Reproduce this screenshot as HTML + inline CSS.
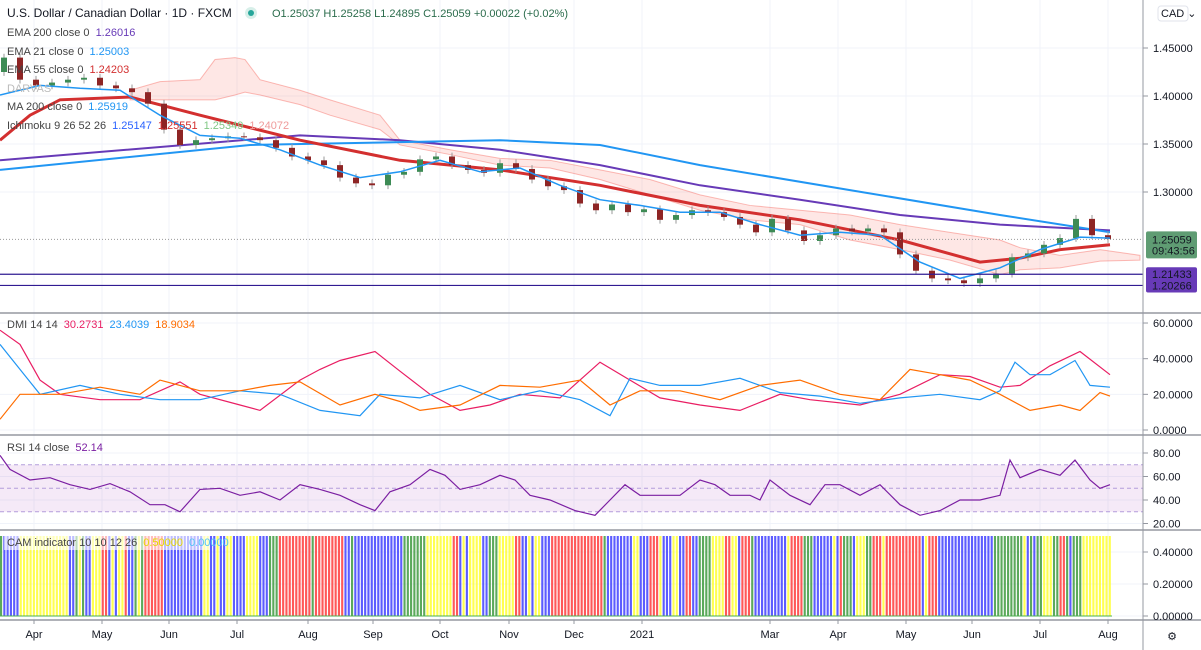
<!DOCTYPE html>
<html><head><meta charset="utf-8">
<style>
html,body{margin:0;padding:0;background:#fff;}
svg{display:block;font-family:"Liberation Sans",sans-serif;}
.ax{font-size:11px;fill:#131722;}
.lg{font-size:11px;}
</style></head>
<body>
<svg id="c" width="1201" height="650" viewBox="0 0 1201 650"></svg>
<script>
// ---------- data ----------
const monthLabels = ["Apr","May","Jun","Jul","Aug","Sep","Oct","Nov","Dec","2021","Mar","Apr","May","Jun","Jul","Aug"];
const monthT = [3.4,10.2,16.9,23.7,30.8,37.3,44.0,50.9,57.4,64.2,77.0,83.8,90.6,97.2,104.0,110.8];
const priceTicks = [1.45,1.40,1.35,1.30];
const dmiTicks = [60,40,20,0];
const rsiTicks = [80,60,40,20];
const camTicks = [0.4,0.2,0];
const closes = [1.440,1.417,1.411,1.414,1.417,1.419,1.411,1.408,1.404,1.392,1.365,1.349,1.354,1.356,1.358,1.357,1.354,1.346,1.337,1.333,1.328,1.315,1.309,1.307,1.318,1.321,1.334,1.337,1.328,1.323,1.320,1.330,1.324,1.313,1.306,1.302,1.288,1.281,1.287,1.279,1.282,1.271,1.276,1.281,1.279,1.274,1.266,1.258,1.272,1.260,1.249,1.255,1.262,1.259,1.262,1.258,1.235,1.218,1.210,1.208,1.205,1.210,1.215,1.232,1.236,1.245,1.252,1.272,1.255,1.251];
const openFirst = 1.425;
const ema21T = [0,4,8,12,16,20,24,28,32,36,40,44,48,52,56,60,64,68,72,76,80,84,88,92,96,100,104,108,111];
const ema21 = [1.401,1.411,1.408,1.406,1.380,1.359,1.356,1.344,1.328,1.315,1.321,1.333,1.321,1.325,1.307,1.292,1.286,1.279,1.279,1.266,1.255,1.258,1.255,1.227,1.210,1.221,1.240,1.253,1.252];
const ema55T = [0,3,6,13,20,30,40,50,60,70,80,90,98,102,106,111];
const ema55 = [1.354,1.380,1.396,1.399,1.380,1.354,1.333,1.323,1.307,1.286,1.271,1.250,1.227,1.231,1.240,1.245];
const ema200T = [0,30,40,50,60,70,80,90,100,111];
const ema200 = [1.333,1.359,1.354,1.344,1.328,1.307,1.292,1.276,1.266,1.260];
const ma200T = [0,25,40,50,60,70,85,100,111];
const ma200 = [1.323,1.349,1.352,1.354,1.349,1.328,1.302,1.276,1.258];
const cloudT = [13,16,20,21.5,23.5,24.5,26,30,33,38,40,45,50,55,60,65,70,75,80,85,90,95,100,102,106,110,114];
const spanTop = [1.406,1.415,1.417,1.438,1.440,1.438,1.417,1.406,1.396,1.380,1.354,1.344,1.335,1.333,1.323,1.313,1.297,1.286,1.281,1.276,1.266,1.258,1.250,1.242,1.234,1.240,1.234];
const spanBot = [1.396,1.396,1.396,1.396,1.401,1.404,1.401,1.391,1.380,1.365,1.349,1.339,1.328,1.325,1.313,1.297,1.281,1.271,1.266,1.250,1.240,1.229,1.214,1.219,1.221,1.228,1.229];
const levels = [1.21433,1.20266];
const lastPrice = 1.25059;
const dmiT = [0,2,4,6,10,14,18,20,24,26,30,32,34,37.5,40,43,46,49,52,56,60,63,66,70,74,78,81,86,90,94,97,100,102,105,108,111];
const diRed = [56,48,28,20,17,17,27,20,14,11,28,34,39,44,33,20,11,14,20,18,38,28,18,14,11,20,17,14,20,31,30,24,25,36,44,31];
const dmiT2 = [0,2,4,8,12,16,20,24,28,32,36,38,42,46,50,54,58,61,63,66,70,74,78,82,86,90,94,98,100,101.5,103,105,107.5,109,111];
const diBlue = [48,34,20,25,20,17,17,22,20,11,8,20,18,25,17,22,17,8,29,25,25,29,21,19,15,18,20,17,22,38,31,31,39,25,24];
const dmiT3 = [0,2,6,10,14,16,20,24,27,30,34,37.5,40,42,46,50,54,58,61,64,68,72,76,80,84,88,91,94,97,100,103,106,108,110,111];
const diOrange = [6,20,20,24,20,28,22,22,25,27,14,20,16,11,14,25,24,28,14,22,22,17,25,28,20,17,34,31,28,20,11,14,11,21,19];
const rsiT = [0,1,3,5,7,9,11,13,15,16.5,18,20,22,24,26,28,30,32,34,36,37.5,39,41,43,44.5,46,48,50,51.5,53,55,57.5,59.5,61,62.5,64,66,68,70,71.5,73,75,76,77,79,81,82.5,84,86,88,90,92,94,96,98,100,101,102,104,106,107.5,109,110,111];
const rsi = [78,66,57,59,53,49,54,47,36,36,30,49,50,44,47,40,53,49,44,36,31,47,53,66,61,49,53,61,57,44,40,31,27,40,53,44,44,44,57,53,44,44,40,57,44,36,53,53,44,53,36,27,31,40,40,44,74,59,66,61,74,57,50,53];
const camRuns = [["G",1],["B",5],["Y",15],["B",2],["G",1],["Y",1],["G",1],["B",2],["Y",3],["R",2],["B",1],["Y",1],["B",1],["Y",2],["R",1],["B",2],["G",1],["Y",1],["G",1],["R",6],["B",12],["Y",2],["B",2],["Y",1],["B",2],["Y",2],["B",4],["Y",4],["B",3],["G",3],["R",10],["G",1],["R",9],["B",2],["G",1],["B",15],["G",7],["Y",8],["R",2],["B",1],["Y",1],["B",1],["Y",4],["B",2],["G",3],["Y",5],["R",2],["B",2],["Y",1],["B",1],["Y",2],["B",3],["R",16],["G",1],["B",8],["Y",2],["B",3],["R",3],["Y",1],["B",3],["Y",2],["B",2],["R",2],["B",2],["G",4],["Y",4],["R",2],["Y",2],["B",1],["R",3],["G",1],["B",10],["Y",1],["R",4],["G",3],["B",6],["Y",1],["B",1],["R",1],["G",3],["B",1],["Y",3],["G",1],["G",1],["R",3],["Y",1],["R",11],["B",1],["Y",1],["R",3],["B",17],["G",9],["Y",1],["B",1],["G",1],["B",1],["G",2],["Y",3],["G",2],["R",2],["G",1],["B",1],["G",3],["Y",9]];
const camValue = 0.5;

// ---------- scales ----------
const NS="http://www.w3.org/2000/svg";
const svg=document.getElementById('c');
const PW=1143;
const xT=t=>t*10;
const yP=p=>48+(1.45-p)*960;
const yD=v=>430-v*1.783;
const yR=v=>500-(v-40)*1.175;
const yC=v=>616-v*160;
function mk(tag,attrs,parent){const e=document.createElementNS(NS,tag);for(const k in attrs)e.setAttribute(k,attrs[k]);(parent||svg).appendChild(e);return e;}
function txt(x,y,s,cls,fill,anchor){const e=mk('text',{x:x,y:y,class:cls||'ax'});if(fill)e.setAttribute('fill',fill);if(anchor)e.setAttribute('text-anchor',anchor);e.textContent=s;return e;}
function pathFrom(ts,vs,ys){return ts.map((t,i)=>(i?'L':'M')+xT(t).toFixed(1)+','+ys(vs[i]).toFixed(1)).join('');}

// grid
const grid=mk('g',{});


monthT.forEach(t=>mk('line',{x1:xT(t),x2:xT(t),y1:0,y2:620,stroke:'#f0f3fa','stroke-width':1},grid));
priceTicks.forEach(p=>mk('line',{x1:0,x2:PW,y1:yP(p),y2:yP(p),stroke:'#f0f3fa'},grid));
dmiTicks.forEach(v=>mk('line',{x1:0,x2:PW,y1:yD(v),y2:yD(v),stroke:'#f0f3fa'},grid));
rsiTicks.forEach(v=>mk('line',{x1:0,x2:PW,y1:yR(v),y2:yR(v),stroke:'#f0f3fa'},grid));
camTicks.forEach(v=>mk('line',{x1:0,x2:PW,y1:yC(v),y2:yC(v),stroke:'#f0f3fa'},grid));

// cloud
const cp=cloudT.map((t,i)=>xT(t)+','+yP(spanTop[i])).concat(cloudT.slice().reverse().map((t,j)=>{const i=cloudT.length-1-j;return xT(t)+','+yP(spanBot[i]);})).join(' ');
const cloud=mk('polygon',{points:cp,fill:'rgba(244,67,54,0.13)',stroke:'rgba(244,67,54,0.35)','stroke-width':1});



// MAs
const l200=mk('path',{d:pathFrom(ema200T,ema200,yP),fill:'none',stroke:'#673ab7','stroke-width':2});


const lma=mk('path',{d:pathFrom(ma200T,ma200,yP),fill:'none',stroke:'#2196f3','stroke-width':2});


const l55=mk('path',{d:pathFrom(ema55T,ema55,yP),fill:'none',stroke:'#d32f2f','stroke-width':3});



// candles
const cg=mk('g',{});


closes.forEach((c,i)=>{
  const o=i?closes[i-1]:openFirst;
  const x=xT(i*1.6+0.4);
  const up=c>=o;const col=up?'#3d8b55':'#8e2525';
  const hi=Math.max(o,c)+0.004, lo=Math.min(o,c)-0.004;
  mk('line',{x1:x,x2:x,y1:yP(hi),y2:yP(lo),stroke:'#999','stroke-width':1},cg);
  const b=mk('rect',{x:x-3,y:yP(Math.max(o,c)),width:6,height:Math.max(1,Math.abs(yP(o)-yP(c))),fill:col},cg);
  
  
});
const l21=mk('path',{d:pathFrom(ema21T,ema21,yP),fill:'none',stroke:'#2196f3','stroke-width':1.5});



// levels
levels.forEach((lv,i)=>{const l=mk('line',{x1:0,x2:PW,y1:yP(lv),y2:yP(lv),stroke:'#311b92','stroke-width':1.2});

});
const lp=mk('line',{x1:0,x2:PW,y1:yP(lastPrice),y2:yP(lastPrice),stroke:'#999','stroke-dasharray':'1,2'});



// DMI
[[dmiT,diRed,'#e91e63'],[dmiT2,diBlue,'#2196f3'],[dmiT3,diOrange,'#ff6d00']].forEach((s,k)=>{
 const p=mk('path',{d:pathFrom(s[0],s[1],yD),fill:'none',stroke:s[2],'stroke-width':1.2});
 
 
});

// RSI
const band=mk('rect',{x:0,y:yR(70),width:PW,height:yR(30)-yR(70),fill:'rgba(156,39,176,0.1)'});


[70,50,30].forEach(v=>mk('line',{x1:0,x2:PW,y1:yR(v),y2:yR(v),stroke:'#b39ddb','stroke-dasharray':'4,3'}));
const rl=mk('path',{d:pathFrom(rsiT,rsi,yR),fill:'none',stroke:'#7b1fa2','stroke-width':1.2});



// CAM
const colMap={B:'#3f3fff',G:'#3e9a3e',Y:'#ffff33',R:'#ff3b3b'};
const camG=mk('g',{});


const camCount=camRuns.reduce((a,r)=>a+r[1],0);
const camPitch=1112/camCount;
let bi=0;
camRuns.forEach(r=>{for(let k=0;k<r[1];k++){const x=bi*camPitch;
 const b=mk('rect',{x:x,y:yC(camValue),width:camPitch*0.65,height:yC(0)-yC(camValue),fill:colMap[r[0]],opacity:0.85},camG);
 
 
 bi++;}});
mk('line',{x1:0,x2:1112,y1:yC(0),y2:yC(0),stroke:'#4caf50','stroke-width':1});

// separators & axis
[313,435,530,620].forEach(y=>mk('line',{x1:0,x2:1201,y1:y,y2:y,stroke:'#9598a1','stroke-width':1.5}));
mk('line',{x1:PW,x2:PW,y1:0,y2:650,stroke:'#9598a1','stroke-width':1});
const pa=mk('g',{});


priceTicks.forEach(p=>{mk('line',{x1:PW,x2:PW+5,y1:yP(p),y2:yP(p),stroke:'#9598a1'},pa);txt(1153,yP(p)+4,p.toFixed(5));});
dmiTicks.forEach(v=>{mk('line',{x1:PW,x2:PW+5,y1:yD(v),y2:yD(v),stroke:'#9598a1'});txt(1153,yD(v)+4,v.toFixed(4));});
rsiTicks.forEach(v=>{mk('line',{x1:PW,x2:PW+5,y1:yR(v),y2:yR(v),stroke:'#9598a1'});txt(1153,yR(v)+4,v.toFixed(2));});
camTicks.forEach(v=>{mk('line',{x1:PW,x2:PW+5,y1:yC(v),y2:yC(v),stroke:'#9598a1'});txt(1153,yC(v)+4,v.toFixed(5));});
// labels boxes
mk('rect',{x:1146,y:yP(lastPrice)-8,width:51,height:27,fill:'#5f9c73',rx:2});
txt(1152,yP(lastPrice)+4,'1.25059','ax','#fff');
txt(1152,yP(lastPrice)+15,'09:43:56','ax','#fff');
levels.forEach(lv=>{mk('rect',{x:1146,y:yP(lv)-7,width:51,height:14,fill:'#673ab7',rx:2});txt(1152,yP(lv)+4,lv.toFixed(5),'ax','#fff');});
// CAD button
const cad=mk('rect',{x:1158,y:6,width:30,height:15,rx:3,fill:'#fff',stroke:'#e0e3eb'});


txt(1161,17,'CAD ⌄','ax');
// time axis
monthT.forEach((t,i)=>{txt(xT(t),638,monthLabels[i],'ax',null,'middle');mk('line',{x1:xT(t),x2:xT(t),y1:620,y2:624,stroke:'#9598a1'});});
txt(1172,640,'⚙','ax','#555','middle');

// legends
function legend(y,parts,name){const g=mk('g',{});
 let x=7;parts.forEach(p=>{const t=mk('text',{x:x,y:y,class:'lg',fill:p[1]},g);t.textContent=p[0];x+=t.getComputedTextLength()+6;});}
const title=mk('text',{x:7,y:17,'font-size':'12px',fill:'#131722'});title.textContent='U.S. Dollar / Canadian Dollar · 1D · FXCM';


mk('circle',{cx:251,cy:13,r:6,fill:'#d7efe9'});mk('circle',{cx:251,cy:13,r:3,fill:'#26a69a'});
const ohlc=mk('text',{x:272,y:17,'font-size':'11px',fill:'#2b6c4c'});ohlc.textContent='O1.25037  H1.25258  L1.24895  C1.25059  +0.00022 (+0.02%)';


legend(36,[['EMA 200 close 0','#444'],['1.26016','#673ab7']],'legend-ema200');
legend(55,[['EMA 21 close 0','#444'],['1.25003','#2196f3']],'legend-ema21');
legend(73,[['EMA 55 close 0','#444'],['1.24203','#d32f2f']],'legend-ema55');
legend(92,[['DARVAS','#bbb']],'legend-darvas');
legend(110,[['MA 200 close 0','#444'],['1.25919','#2196f3']],'legend-ma200');
legend(129,[['Ichimoku 9 26 52 26','#444'],['1.25147','#2962ff'],['1.25551','#d32f2f'],['1.25349','#81c784'],['1.24072','#ef9a9a']],'legend-ichimoku');
legend(328,[['DMI 14 14','#444'],['30.2731','#e91e63'],['23.4039','#2196f3'],['18.9034','#ff6d00']],'legend-dmi');
legend(451,[['RSI 14 close','#444'],['52.14','#7b1fa2']],'legend-rsi');
mk('rect',{x:4,y:535,width:205,height:15,fill:'rgba(255,255,255,0.6)'});
legend(546,[['CAM indicator 10 10 12 26','#444'],['0.50000','#e6d800'],['0.00000','#4fc3f7']],'legend-cam');
</script>
</body></html>
